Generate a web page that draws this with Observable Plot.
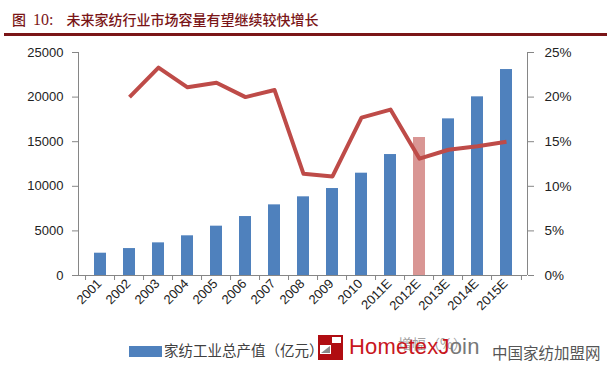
<!DOCTYPE html>
<html>
<head>
<meta charset="utf-8">
<script src="https://cdn.jsdelivr.net/npm/d3@7"></script>
<script src="https://cdn.jsdelivr.net/npm/@observablehq/plot@0.6"></script>
<style>
  html, body { margin: 0; padding: 0; background: #fff; }
  #wrap { position: relative; width: 612px; height: 369px; overflow: hidden; font-family: "Liberation Sans", "DejaVu Sans", sans-serif; }
  #title { position: absolute; left: 12px; top: 9px; font-family: "Noto Sans CJK SC", sans-serif; font-size: 14px; font-weight: 500; color: #7a1517; white-space: pre; line-height: 20px; }
  #title .num { font-family: "Liberation Serif", serif; font-size: 16px; margin-left: 7px; margin-right: 13px; }
  #rule { position: absolute; left: 4px; top: 33px; width: 603px; height: 3px; background: #7a1517; }
  #chart { position: absolute; left: 0; top: 40px; }
  .leg { position: absolute; font-family: "Noto Sans CJK SC", sans-serif; white-space: nowrap; }
</style>
</head>
<body>
<div id="wrap">
  <div id="title"></div>
  <div id="rule"></div>
  <div id="chart"></div>
  <div class="leg" style="left:129px; top:346px; width:33px; height:11px; background:#4f81bd;"></div>
  <div class="leg" id="leg1" style="left:164px; top:340px; font-size:14.5px; color:#404040; line-height:20px;"></div>
  <div class="leg" id="leg2" style="left:398px; top:333px; font-size:14px; color:#a0a0a0; line-height:20px;"></div>
  <!-- watermark -->
  <div class="leg" style="left:318px; top:335px; width:25px; height:25px; background:#b00d12;"></div>
  <div class="leg" style="left:320px; top:345px; width:11px; height:9px; background:#fff;"></div>
  <div class="leg" style="left:332px; top:337px; width:9px; height:6px; background:#fff;"></div>
  <div class="leg" style="left:321px; top:346px; width:0; height:0; border-left:9px solid transparent; border-bottom:7px solid #8a8a8a;"></div>
  <div class="leg" id="wm1" style="left:349px; top:334px; font-family:'Liberation Sans',sans-serif; font-size:22px; line-height:26px; letter-spacing:0.2px;"></div>
  <div class="leg" id="wm2" style="left:492px; top:342px; font-size:15.5px; color:#555; line-height:20px;"></div>
</div>
<script>
const titleFig = "图";
const titleNum = "10:";
const titleText = "未来家纺行业市场容量有望继续较快增长";
const years = ["2001","2002","2003","2004","2005","2006","2007","2008","2009","2010","2011E","2012E","2013E","2014E","2015E"];
const output = [2500, 3020, 3660, 4450, 5530, 6610, 7920, 8820, 9750, 11470, 13560, 15470, 17560, 20030, 23090];
const growthYears = ["2002","2003","2004","2005","2006","2007","2008","2009","2010","2011E","2012E","2013E","2014E","2015E"];
const growth = [20.0, 23.3, 21.1, 21.6, 20.0, 20.8, 11.4, 11.1, 17.7, 18.6, 13.1, 14.1, 14.5, 15.0];
const highlightYear = "2012E";
const leftTicks = [0, 5000, 10000, 15000, 20000, 25000];
const legendBar = "家纺工业总产值（亿元）";
const legendLine = "增幅（%）";
const watermarkA = "Hometex";
const watermarkB = "J";
const watermarkC = "oin";
const watermarkCN = "中国家纺加盟网";

document.getElementById("title").innerHTML = `${titleFig}<span class="num">${titleNum}</span>${titleText}`;
document.getElementById("leg1").textContent = legendBar;
document.getElementById("leg2").textContent = legendLine;
document.getElementById("wm1").innerHTML = `<span style="color:#c8161d">${watermarkA}</span><span style="color:#c8161d">${watermarkB}</span><span style="color:#777">${watermarkC}</span>`;
document.getElementById("wm2").textContent = watermarkCN;

const barData = years.map((y, i) => ({year: y, value: output[i]}));
const lineData = growthYears.map((y, i) => ({year: y, pct: growth[i]}));
const pctScale = 25000 / 25; // right axis: 25% ↔ 25000

const W = 612, H = 296, mL = 78, mR = 85, mT = 12, mB = 61;
const step = (W - mL - mR) / years.length;
const axisColor = "#868686";

const chart = Plot.plot({
  width: W, height: H,
  marginLeft: mL, marginRight: mR, marginTop: mT, marginBottom: mB,
  style: {fontFamily: "'Liberation Sans', 'DejaVu Sans', sans-serif", fontSize: "12.5px", color: "#222", background: "white", overflow: "visible"},
  x: {type: "band", domain: years, paddingInner: 0.6, paddingOuter: 0.3, label: null},
  y: {domain: [0, 25000], label: null},
  marks: [
    Plot.barY(barData, {x: "year", y: "value", fill: d => d.year === highlightYear ? "#d99694" : "#4f81bd"}),
    Plot.lineY(lineData, {x: "year", y: d => d.pct * pctScale, stroke: "#be4b48", strokeWidth: 4, strokeLinejoin: "round", strokeLinecap: "butt"}),
    Plot.axisY({anchor: "left", ticks: leftTicks, tickSize: 6, tickPadding: 9, stroke: axisColor, color: "#222", label: null, tickFormat: d => String(d), fontSize: 13}),
    Plot.axisY({anchor: "right", ticks: leftTicks, tickSize: 6, tickPadding: 11, stroke: axisColor, color: "#222", label: null, tickFormat: d => (d / pctScale) + "%", fontSize: 13.5}),
    Plot.ruleY([0], {stroke: axisColor}),
    Plot.axisX({ticks: years, tickSize: 5, tickFormat: () => "", stroke: axisColor, label: null, dx: -step / 2}),
    Plot.axisX({ticks: [years[years.length - 1]], tickSize: 5, tickFormat: () => "", stroke: axisColor, label: null, dx: step / 2}),
    Plot.axisX({ticks: years, tickSize: 0, tickRotate: -45, tickPadding: 6, color: "#222", fontSize: 13, label: null, dx: -1}),
  ]
});
const svg = d3.select(chart);
svg.append("line").attr("x1", mL + 0.5).attr("x2", mL + 0.5).attr("y1", mT).attr("y2", H - mB).attr("stroke", axisColor);
svg.append("line").attr("x1", W - mR + 0.5).attr("x2", W - mR + 0.5).attr("y1", mT).attr("y2", H - mB).attr("stroke", axisColor);
document.getElementById("chart").appendChild(chart);
</script>
</body>
</html>
